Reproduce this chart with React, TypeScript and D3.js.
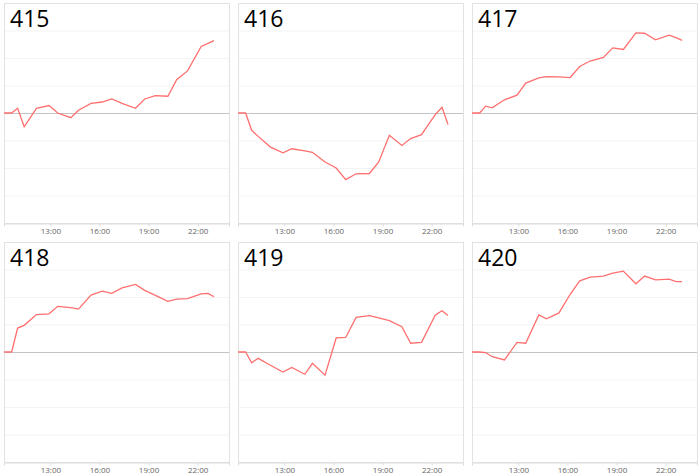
import React, { useEffect, useRef } from "react";
import * as d3 from "d3";

// sample times (shared by every panel)
const times = [
  "10:10", "10:38", "11:00", "11:24", "12:09", "12:55", "13:27", "14:15", "14:43", "15:29", "16:10",
  "16:45", "17:23", "18:12", "18:46", "19:25", "20:11", "20:43", "21:23", "22:13", "22:38", "23:00",
];
const tickLabels = ["13:00", "16:00", "19:00", "22:00"];

const names = ["415", "416", "417", "418", "419", "420"];
const s415 = [0, 0, 0.17, -0.5, 0.17, 0.27, 0, -0.17, 0.1, 0.35, 0.4, 0.51, 0.35, 0.17, 0.51, 0.63, 0.61, 1.21, 1.53, 2.42, 2.53, 2.63];
const s416 = [0, 0, -0.63, -0.85, -1.24, -1.45, -1.3, -1.38, -1.43, -1.78, -2.0, -2.42, -2.21, -2.2, -1.78, -0.81, -1.18, -0.93, -0.79, -0.06, 0.21, -0.42];
const s417 = [0, 0, 0.25, 0.19, 0.48, 0.65, 1.09, 1.28, 1.32, 1.31, 1.29, 1.69, 1.89, 2.02, 2.37, 2.31, 2.91, 2.9, 2.66, 2.83, 2.74, 2.64];
const s418 = [0, 0, 0.87, 0.97, 1.36, 1.39, 1.66, 1.61, 1.56, 2.07, 2.21, 2.13, 2.33, 2.46, 2.24, 2.06, 1.84, 1.92, 1.94, 2.11, 2.13, 2.01];
const s419 = [0, 0, -0.39, -0.23, -0.48, -0.73, -0.56, -0.81, -0.41, -0.84, 0.51, 0.53, 1.26, 1.32, 1.24, 1.14, 0.92, 0.32, 0.35, 1.34, 1.5, 1.33];
const s420 = [0, 0, -0.02, -0.17, -0.29, 0.35, 0.32, 1.35, 1.21, 1.42, 2.1, 2.59, 2.72, 2.76, 2.87, 2.94, 2.48, 2.76, 2.62, 2.65, 2.56, 2.56];
const series = [s415, s416, s417, s418, s419, s420];

const gridValues = [-3, -2, -1, 1, 2, 3];

const toHours = (s: string) => {
  const [h, m] = s.split(":").map(Number);
  return h + m / 60;
};

export default function App() {
  const svgRef = useRef<SVGSVGElement | null>(null);

  useEffect(() => {
    const svg = d3.select(svgRef.current);
    svg.selectAll("*").remove();

    const colLeft = [4, 238, 472];
    const rowTop = [3, 242];
    const w = 225, h = 220;

    const x = d3.scaleLinear().domain([toHours(times[0]), toHours("23:55")]).range([0, w]);
    const y = d3.scaleLinear().domain([-4, 4]).range([h, 0]);

    series.forEach((vals, i) => {
      const g = svg
        .append("g")
        .attr("transform", `translate(${colLeft[i % 3]},${rowTop[Math.floor(i / 3)]})`);

      // faint grid
      g.selectAll(".grid")
        .data(gridValues)
        .enter()
        .append("line")
        .attr("x1", 0)
        .attr("x2", w)
        .attr("y1", d => y(d) + 0.5)
        .attr("y2", d => y(d) + 0.5)
        .attr("stroke", "#f3f3f3");

      g.append("line")
        .attr("x1", 0)
        .attr("x2", w)
        .attr("y1", y(0) + 0.5)
        .attr("y2", y(0) + 0.5)
        .attr("stroke", "#c4c4c4");

      g.append("rect")
        .attr("x", 0.5)
        .attr("y", 0.5)
        .attr("width", w)
        .attr("height", h)
        .attr("fill", "none")
        .attr("stroke", "#e2e2e2");

      const axis = g
        .append("g")
        .attr("transform", `translate(0,${h + 0.5})`)
        .call(
          d3
            .axisBottom(x)
            .tickValues(tickLabels.map(toHours))
            .tickFormat((_, j) => tickLabels[j])
            .tickSize(3)
            .tickPadding(2)
        );
      axis.select(".domain").attr("stroke", "#dcdcdc");
      axis.selectAll(".tick line").attr("stroke", "#dcdcdc");
      axis
        .selectAll(".tick text")
        .attr("fill", "#666")
        .attr("font-size", "8px")
        .attr("font-family", "'Open Sans', sans-serif");

      const line = d3
        .line<number>()
        .x((_, j) => x(toHours(times[j])))
        .y(d => y(d));

      g.append("path")
        .datum(vals)
        .attr("d", line)
        .attr("fill", "none")
        .attr("stroke", "#ff6f6f")
        .attr("stroke-width", 1.3);

      g.append("text")
        .attr("x", 6)
        .attr("y", 24)
        .attr("font-size", "23px")
        .attr("font-family", "'Open Sans', sans-serif")
        .attr("fill", "#000")
        .text(names[i]);
    });
  }, []);

  return (
    <svg
      ref={svgRef}
      width={700}
      height={476}
      style={{ position: "absolute", left: 0, top: 0, background: "#fff" }}
    ></svg>
  );
}
